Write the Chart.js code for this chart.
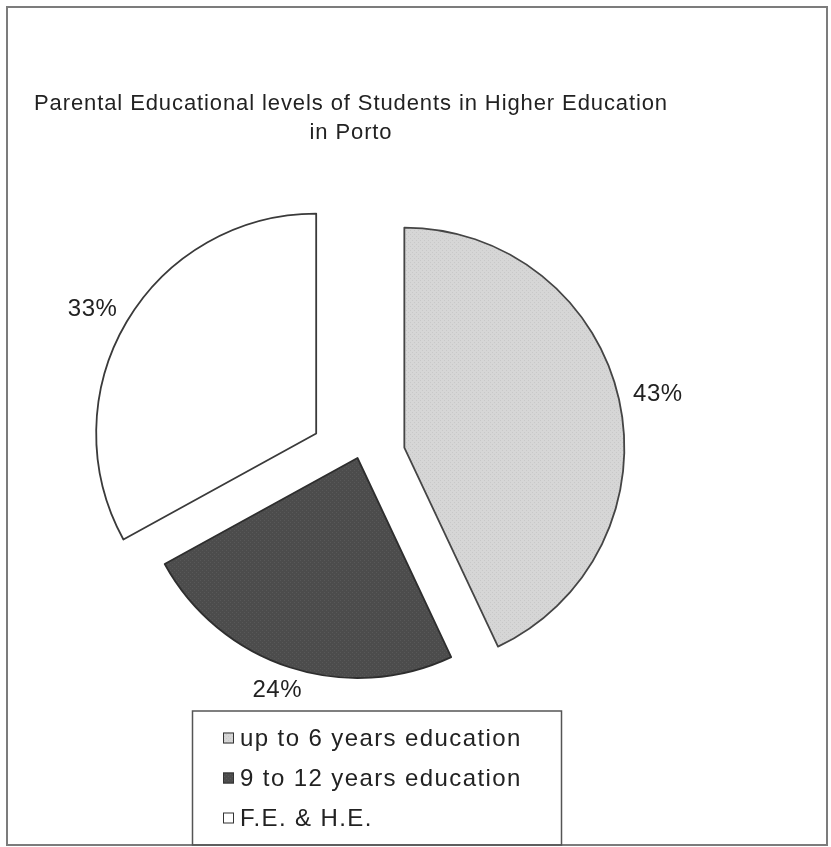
<!DOCTYPE html>
<html>
<head>
<meta charset="utf-8">
<title>Parental Educational levels of Students in Higher Education in Porto</title>
<script src="https://cdn.jsdelivr.net/npm/chart.js@4.4.0/dist/chart.umd.min.js"></script>
<style>
  html, body { margin: 0; padding: 0; background: #fff; }
  #frame {
    position: absolute; left: 6px; top: 6px;
    width: 822px; height: 840px;
    box-sizing: border-box;
    border: 2px solid #7c7c7c;
  }
  #pie { position: absolute; left: 0; top: 0; }
</style>
</head>
<body>
<div id="frame"></div>
<canvas id="pie" width="831" height="847"></canvas>
<script>
// data
const titleLines = ['Parental Educational levels of Students in Higher Education', 'in Porto'];
const categories = ['up to 6 years education', '9 to 12 years education', 'F.E. & H.E.'];
const shares = [43, 24, 33];

// how far each slice is pulled out of the pie (px)
const explode = [48, 0, 48];

const FONT = '"Liberation Sans", Arial, sans-serif';
const TEXT = '#222';

const canvas = document.getElementById('pie');
const ctx0 = canvas.getContext('2d');

// small stippled tiles, like the printed grey fills
function stipple(base, dot) {
  const tile = document.createElement('canvas');
  tile.width = 4;
  tile.height = 4;
  const g = tile.getContext('2d');
  g.fillStyle = base;
  g.fillRect(0, 0, 4, 4);
  g.fillStyle = dot;
  g.fillRect(0, 0, 1, 1);
  g.fillRect(2, 2, 1, 1);
  return ctx0.createPattern(tile, 'repeat');
}

const fills = [stipple('#d6d6d6', '#c8c8c8'), stipple('#4c4c4c', '#585858'), '#ffffff'];
const edges = ['#454545', '#2e2e2e', '#3a3a3a'];

// pulls slices out along their bisector without growing them
const explodePlugin = {
  id: 'explodeSlices',
  afterDatasetsUpdate(chart) {
    const meta = chart.getDatasetMeta(0);
    meta.data.forEach((arc, i) => {
      const d = explode[i] || 0;
      const mid = (arc.startAngle + arc.endAngle) / 2;
      arc.x += Math.cos(mid) * d;
      arc.y += Math.sin(mid) * d;
    });
  }
};

// percentages just outside each slice; the text box sits past the rim
const percentLabels = {
  id: 'percentLabels',
  afterDatasetsDraw(chart) {
    const { ctx } = chart;
    const meta = chart.getDatasetMeta(0);
    const values = chart.data.datasets[0].data;
    ctx.save();
    ctx.font = '24px ' + FONT;
    ctx.letterSpacing = '0.5px';
    ctx.fillStyle = TEXT;
    ctx.textAlign = 'center';
    ctx.textBaseline = 'middle';
    meta.data.forEach((arc, i) => {
      const text = values[i] + '%';
      const w = ctx.measureText(text).width;
      const h = 18;
      const mid = (arc.startAngle + arc.endAngle) / 2;
      const cx = Math.cos(mid), cy = Math.sin(mid);
      const r = arc.outerRadius + 15;
      ctx.fillText(text, arc.x + cx * r + cx * w / 2, arc.y + cy * r + cy * h / 2);
    });
    ctx.restore();
  }
};

// title on top, legend in a box at the bottom
const titleAndLegend = {
  id: 'titleAndLegend',
  afterDraw(chart) {
    const { ctx } = chart;
    const ds = chart.data.datasets[0];
    ctx.save();

    ctx.font = '22px ' + FONT;
    ctx.letterSpacing = '0.9px';
    ctx.fillStyle = TEXT;
    ctx.textAlign = 'center';
    ctx.textBaseline = 'alphabetic';
    titleLines.forEach((line, i) => ctx.fillText(line, 351, 110 + i * 29));

    // legend frame
    ctx.lineWidth = 1.5;
    ctx.strokeStyle = '#555';
    ctx.strokeRect(192.5, 711, 369, 134);

    ctx.font = '24px ' + FONT;
    ctx.letterSpacing = '1.4px';
    ctx.textAlign = 'left';
    ctx.textBaseline = 'middle';
    chart.data.labels.forEach((label, i) => {
      const y = 738 + i * 40;
      ctx.fillStyle = ds.backgroundColor[i];
      ctx.fillRect(223, y - 5.5, 11, 11);
      ctx.lineWidth = 1;
      ctx.strokeStyle = '#333';
      ctx.strokeRect(223.5, y - 5, 10, 10);
      ctx.fillStyle = TEXT;
      ctx.fillText(label, 240, y + 1);
    });

    ctx.restore();
  }
};

new Chart(canvas, {
  type: 'pie',
  data: {
    labels: categories,
    datasets: [{
      data: shares,
      backgroundColor: fills,
      borderColor: edges,
      borderWidth: 1.8,
      borderJoinStyle: 'round'
    }]
  },
  options: {
    responsive: false,
    animation: false,
    radius: 220,
    layout: { padding: { left: 0, right: 116, top: 150, bottom: 81 } },
    plugins: {
      legend: { display: false },
      title: { display: false },
      tooltip: { enabled: false }
    }
  },
  plugins: [explodePlugin, percentLabels, titleAndLegend]
});
</script>
</body>
</html>
